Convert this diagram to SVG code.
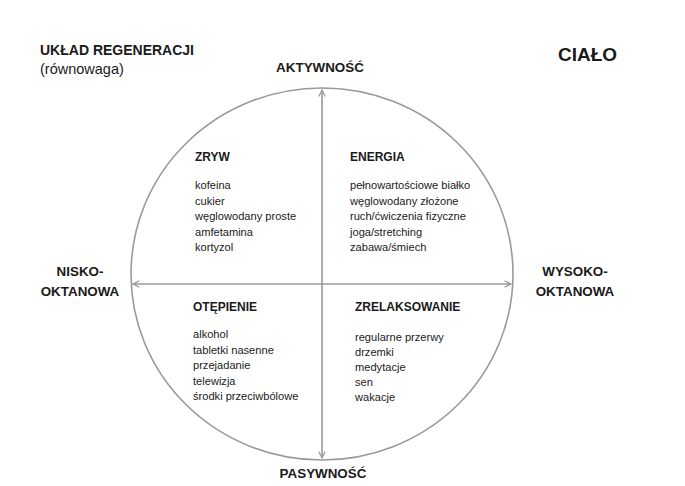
<svg xmlns="http://www.w3.org/2000/svg" width="685" height="486" viewBox="0 0 685 486">
<defs>
<style>
.t{font-family:"Liberation Sans",Arial,sans-serif;fill:#1a1a1a}
.b{font-weight:bold}
.h{font-size:12px;font-weight:bold}
.i{font-size:11.1px}
.ax{font-size:13.4px;font-weight:bold}
.ln{stroke:#999;stroke-width:1.6;fill:none}
</style>
<marker id="ah" viewBox="0 0 10 10" refX="9" refY="5" markerWidth="8" markerHeight="8" orient="auto-start-reverse" markerUnits="userSpaceOnUse">
<path d="M1,1 L9,5 L1,9" fill="none" stroke="#999" stroke-width="1.5"/>
</marker>
</defs>
<rect width="685" height="486" fill="#fff"/>
<g id="circle">
<ellipse cx="322" cy="274" rx="191" ry="186" class="ln"/>
</g>
<g id="connectors">
<line x1="322" y1="90" x2="322" y2="458" class="ln" marker-start="url(#ah)" marker-end="url(#ah)"/>
<line x1="133" y1="284" x2="511" y2="284" class="ln" marker-start="url(#ah)" marker-end="url(#ah)"/>
</g>
<g id="title">
<text class="t b" x="40" y="55" font-size="14">UKŁAD REGENERACJI</text>
<text class="t" x="40" y="74" font-size="14.5">(równowaga)</text>
</g>
<g id="cialo">
<text class="t b" x="558" y="61" font-size="19">CIAŁO</text>
</g>
<g id="aktywnosc">
<text class="t ax" x="320" y="72" text-anchor="middle">AKTYWNOŚĆ</text>
</g>
<g id="pasywnosc">
<text class="t ax" x="323" y="478" text-anchor="middle">PASYWNOŚĆ</text>
</g>
<g id="nisko">
<text class="t ax" x="80" y="276" text-anchor="middle">NISKO-</text>
<text class="t ax" x="80" y="296" text-anchor="middle">OKTANOWA</text>
</g>
<g id="wysoko">
<text class="t ax" x="575" y="276" text-anchor="middle">WYSOKO-</text>
<text class="t ax" x="575" y="296" text-anchor="middle">OKTANOWA</text>
</g>
<g id="zryw">
<text class="t h" x="195" y="161">ZRYW</text>
<text class="t i" x="195" y="189">kofeina</text>
<text class="t i" x="195" y="204.5">cukier</text>
<text class="t i" x="195" y="220">węglowodany proste</text>
<text class="t i" x="195" y="235.5">amfetamina</text>
<text class="t i" x="195" y="251">kortyzol</text>
</g>
<g id="energia">
<text class="t h" x="350" y="161">ENERGIA</text>
<text class="t i" x="350" y="189">pełnowartościowe białko</text>
<text class="t i" x="350" y="204.5">węglowodany złożone</text>
<text class="t i" x="350" y="220">ruch/ćwiczenia fizyczne</text>
<text class="t i" x="350" y="235.5">joga/stretching</text>
<text class="t i" x="350" y="251">zabawa/śmiech</text>
</g>
<g id="otepienie">
<text class="t h" x="193" y="311">OTĘPIENIE</text>
<text class="t i" x="193" y="338">alkohol</text>
<text class="t i" x="193" y="353.5">tabletki nasenne</text>
<text class="t i" x="193" y="369">przejadanie</text>
<text class="t i" x="193" y="384.5">telewizja</text>
<text class="t i" x="193" y="400">środki przeciwbólowe</text>
</g>
<g id="zrelaksowanie">
<text class="t h" x="355" y="311">ZRELAKSOWANIE</text>
<text class="t i" x="355" y="341">regularne przerwy</text>
<text class="t i" x="355" y="356">drzemki</text>
<text class="t i" x="355" y="371">medytacje</text>
<text class="t i" x="355" y="386">sen</text>
<text class="t i" x="355" y="401">wakacje</text>
</g>
</svg>
